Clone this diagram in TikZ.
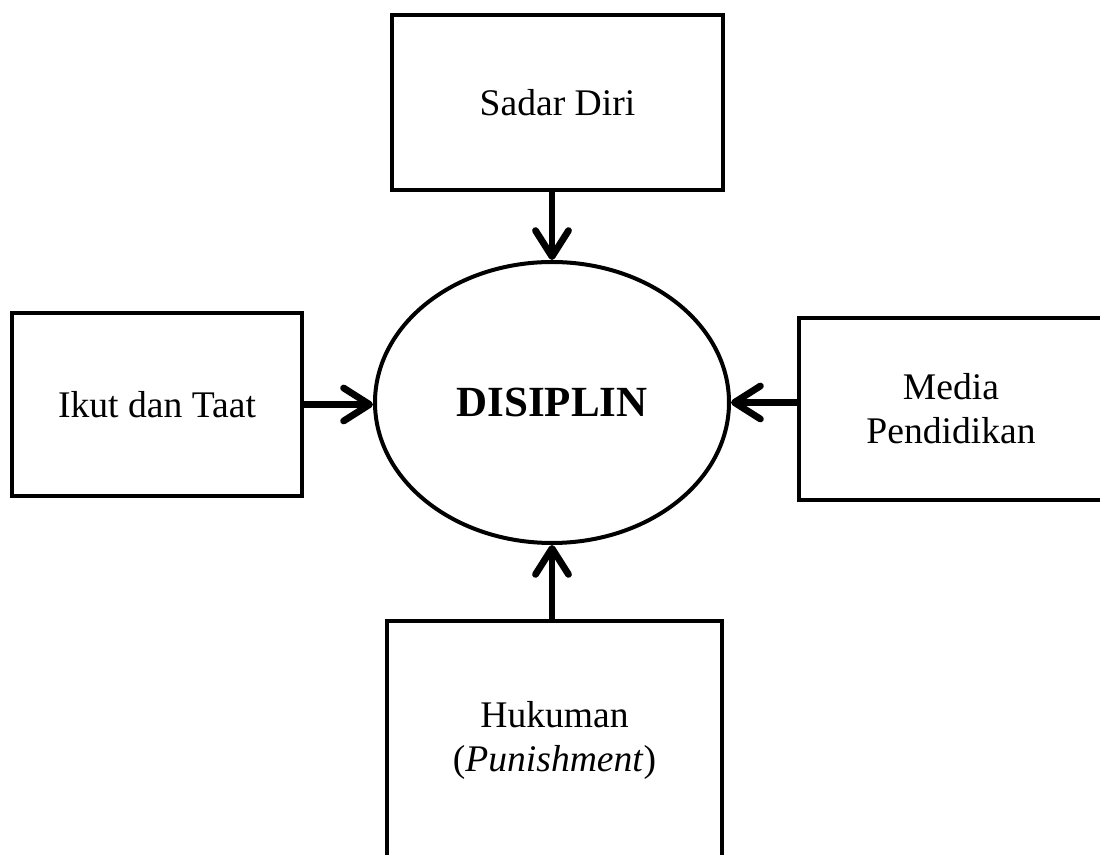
\documentclass[tikz,border=0pt]{standalone}
\usepackage{fontspec}
\setmainfont{Liberation Serif}
\usetikzlibrary{arrows.meta,shapes.geometric}
\begin{document}
\begin{tikzpicture}[x=0.5pt,y=-0.5pt,
  box/.style={draw, line width=2.2pt, rectangle, inner sep=0pt, align=center,
    font=\fontsize{18.8pt}{22pt}\selectfont},
  conn/.style={line width=3.4pt, -{Straight Barb[length=13pt,width=16.5pt,round]}}]
\useasboundingbox (0,0) rectangle (1100,855);
\node[box, minimum width=165.5pt, minimum height=87.5pt] (top) at (557.5,102.5) {Sadar Diri};
\node[box, minimum width=145pt, minimum height=91.5pt] (left) at (157,404.5) {Ikut dan Taat};
\node[box, minimum width=152pt, minimum height=91pt] (right) at (951,409) {Media\\Pendidikan};
\node[box, minimum width=167.5pt, minimum height=119pt] (bottom) at (554.5,740) {Hukuman\\(\textit{Punishment})};
\node[draw, ellipse, line width=2pt, inner sep=0pt, minimum width=177pt, minimum height=140.5pt,
  font=\fontsize{21.5pt}{24pt}\selectfont\bfseries] (ell) at (552,402.5) {DISIPLIN};
\draw[conn] (ell.north |- top.south) -- (ell.north);
\draw[conn] (ell.south |- bottom.north) -- (ell.south);
\draw[conn] (left.east) -- (left.east -| ell.west);
\draw[conn] (right.west |- ell.east) -- (ell.east);
\end{tikzpicture}
\end{document}
